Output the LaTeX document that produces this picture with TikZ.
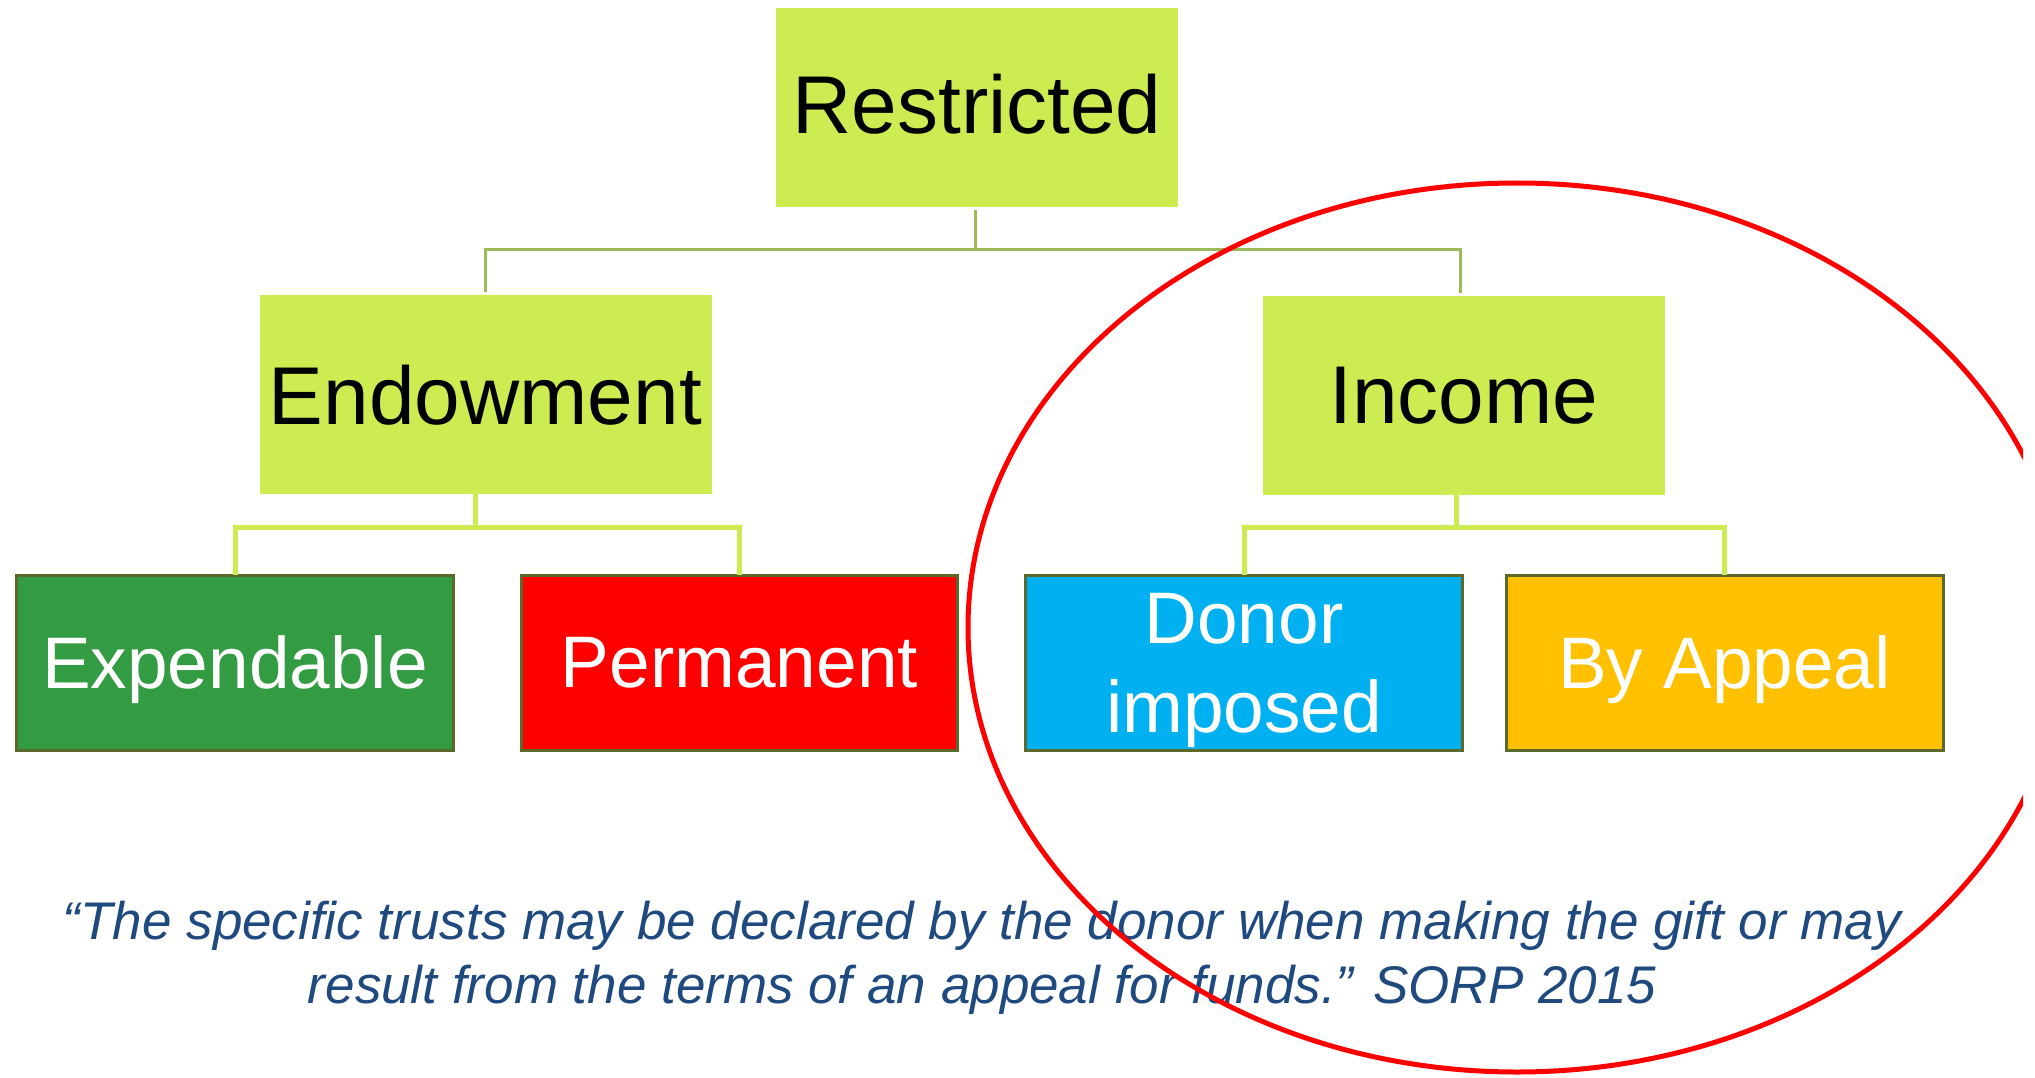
\documentclass[tikz,border=0pt]{standalone}
\usepackage{fontspec}
\setmainfont{Liberation Sans}
\definecolor{boxgreen}{HTML}{CCEC52}
\definecolor{connolive}{HTML}{9BBB59}
\definecolor{expgreen}{HTML}{339B41}
\definecolor{permred}{HTML}{FF0000}
\definecolor{donorblue}{HTML}{00B0F0}
\definecolor{appealorange}{HTML}{FFC000}
\definecolor{boxborder}{HTML}{5A6A2A}
\definecolor{quoteblue}{HTML}{1F4A80}
\definecolor{ringred}{HTML}{FF0000}
\tikzset{
  topbox/.style={fill=boxgreen, inner sep=0pt, outer sep=0pt, minimum height=199pt,
    text depth=0pt, font=\fontsize{82}{98}\selectfont, text=black},
  leafbox/.style={draw=boxborder, line width=3pt, inner sep=0pt, outer sep=0pt,
    minimum height=175pt, text depth=0pt, text=white, align=center,
    font=\fontsize{73}{89}\selectfont},
  connthin/.style={draw=connolive, line width=3pt},
  connthick/.style={draw=boxgreen, line width=5pt},
  ring/.style={draw=ringred, line width=5pt},
  quotetext/.style={text=quoteblue, align=center, inner sep=0pt,
    font=\fontsize{53}{64}\selectfont\itshape}
}
\begin{document}
\begin{tikzpicture}[x=1pt,y=-1pt]
\useasboundingbox[fill=white] (0,0) rectangle (2035,1078);
% level 0 and 1
\node[topbox, minimum width=402pt, text depth=8pt] (R) at (977,107.5) {Restricted};
\node[topbox, minimum width=452pt] (E) at (485.5,394.5) {Endowment};
\node[topbox, minimum width=402pt] (I) at (1464,395.5) {Income};
% leaves
\node[leafbox, fill=expgreen, minimum width=437pt] (X) at (235,662.5) {Expendable};
\node[leafbox, fill=permred, minimum width=436pt] (P) at (739.5,662.5) {Permanent};
\node[leafbox, fill=donorblue, minimum width=437pt] (D) at (1244,662.5) {Donor\\imposed};
\node[leafbox, fill=appealorange, minimum width=437pt] (A) at (1724.5,662.5) {By Appeal};
% connectors level 0 -> 1
\draw[connthin, shorten >=3pt, shorten <=3pt] ([xshift=-2pt]R.south) -- ++(0,43) -| (E.north);
\draw[connthin, shorten >=3pt, shorten <=3pt] ([xshift=-2pt]R.south) -- ++(0,43) -| ([xshift=-4pt]I.north);
% connectors level 1 -> 2
\draw[connthick] ([xshift=-10pt]E.south) -- ++(0,33) -| (X.north);
\draw[connthick] ([xshift=-10pt]E.south) -- ++(0,33) -| (P.north);
\draw[connthick] ([xshift=-8pt]I.south) -- ++(0,32) -| (D.north);
\draw[connthick] ([xshift=-8pt]I.south) -- ++(0,32) -| (A.north);
% quote
\node[quotetext] (Q) at (982,957.5) {“The specific trusts may be declared by the donor when making the gift or may\\result from the terms of an appeal for funds.” SORP 2015};
% ring
\begin{scope}
\clip (0,0) rectangle (2023,1078);
\draw[ring] (1517,627.5) ellipse [x radius=549, y radius=444.5];
\end{scope}
\end{tikzpicture}
\end{document}
